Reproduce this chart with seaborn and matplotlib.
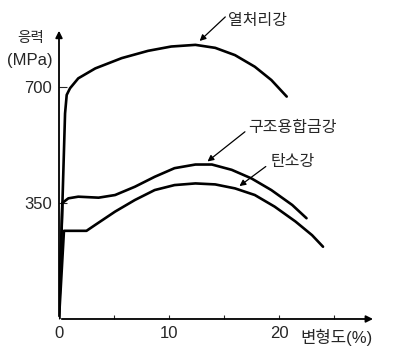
import pandas as pd
import seaborn as sns
import matplotlib.pyplot as plt

# 곡선 데이터 (변형도 %, 응력 MPa) - 그림에서 읽은 값
heat_strain = [0, 0.55, 0.7, 1.0, 1.75, 3.3, 5.7, 8.1, 10.2, 12.4, 14.2, 16.0, 17.8, 19.3, 20.7]
heat_stress = [0, 620, 676, 696, 726, 756, 787, 809, 822, 827, 818, 796, 761, 721, 671]

alloy_strain = [0, 0.3, 0.85, 1.75, 3.6, 5.1, 6.9, 8.7, 10.5, 12.4, 13.9, 15.7, 17.5, 19.3, 21.2, 22.5]
alloy_stress = [0, 350, 364, 369, 366, 374, 399, 429, 455, 466, 466, 450, 424, 389, 344, 304]

carbon_strain = [0, 0.45, 2.5, 3.3, 5.1, 6.9, 8.7, 10.5, 12.4, 14.2, 16.0, 17.8, 19.6, 21.5, 23.0, 24.0]
carbon_stress = [0, 266, 266, 284, 324, 359, 389, 404, 409, 406, 394, 374, 339, 294, 253, 218]

names = ['열처리강', '구조용합금강', '탄소강']

x_ticks = [0, 5, 10, 15, 20, 25]
x_ticklabels = ['0', '', '10', '', '20', '']
y_ticks = [350, 700]
y_ticklabels = ['350', '700']

df = pd.concat([
    pd.DataFrame({'strain': heat_strain, 'stress': heat_stress, 'steel': names[0]}),
    pd.DataFrame({'strain': alloy_strain, 'stress': alloy_stress, 'steel': names[1]}),
    pd.DataFrame({'strain': carbon_strain, 'stress': carbon_stress, 'steel': names[2]}),
])

sns.set_style('white')
plt.rcParams['font.family'] = ['Liberation Sans', 'Noto Sans CJK KR', 'DejaVu Sans']

fig = plt.figure(figsize=(3.96, 3.62), dpi=100)
ax = fig.add_axes([0.149, 0.1188, 0.8056, 0.8058])

sns.lineplot(data=df, x='strain', y='stress', hue='steel', units='steel', estimator=None,
             sort=False, palette={n: 'black' for n in names}, linewidth=1.9,
             legend=False, ax=ax)
for ln in ax.lines:
    ln.set_solid_joinstyle('round')

ax.set_xlim(0, 29)
ax.set_ylim(0, 880)
for s in ax.spines.values():
    s.set_visible(False)

# 화살표 축
ax.annotate('', xy=(28.8, 0), xytext=(0, 0), annotation_clip=False,
            arrowprops=dict(arrowstyle='-|>', color='black', lw=1.3, mutation_scale=10))
ax.annotate('', xy=(0, 878), xytext=(0, 0), annotation_clip=False,
            arrowprops=dict(arrowstyle='-|>', color='black', lw=1.3, mutation_scale=10))

ax.set_xticks(x_ticks)
ax.set_xticklabels(x_ticklabels)
ax.set_yticks(y_ticks)
ax.set_yticklabels(y_ticklabels)
ax.tick_params(axis='x', direction='in', length=3, width=0.8, pad=5, labelsize=12)
ax.tick_params(axis='y', direction='in', length=6, width=0.8, pad=5, labelsize=12)
ax.tick_params(left=True, bottom=True)
ax.set_xlabel('')
ax.set_ylabel('')

# 곡선 이름과 화살표
labels = [
    (names[0], (15.4, 902), (15.3, 917), (12.6, 833)),
    (names[1], (17.2, 579), (17.1, 570), (13.3, 470)),
    (names[2], (19.2, 474), (19.0, 465), (16.2, 396)),
]
for text, tpos, tail, tip in labels:
    ax.text(tpos[0], tpos[1], text, ha='left', va='center', fontsize=11.5, clip_on=False)
    ax.annotate('', xy=tip, xytext=tail, annotation_clip=False,
                arrowprops=dict(arrowstyle='-|>', color='black', lw=0.9, mutation_scale=9))

fig.text(31 / 396, 1 - 38 / 362, '응력', ha='center', va='center', fontsize=10.5)
fig.text(30 / 396, 1 - 60 / 362, '(MPa)', ha='center', va='center', fontsize=12)
fig.text(336 / 396, 1 - 337 / 362, '변형도(%)', ha='center', va='center', fontsize=12)

fig.savefig('out.png', dpi=100)
plt.close(fig)
